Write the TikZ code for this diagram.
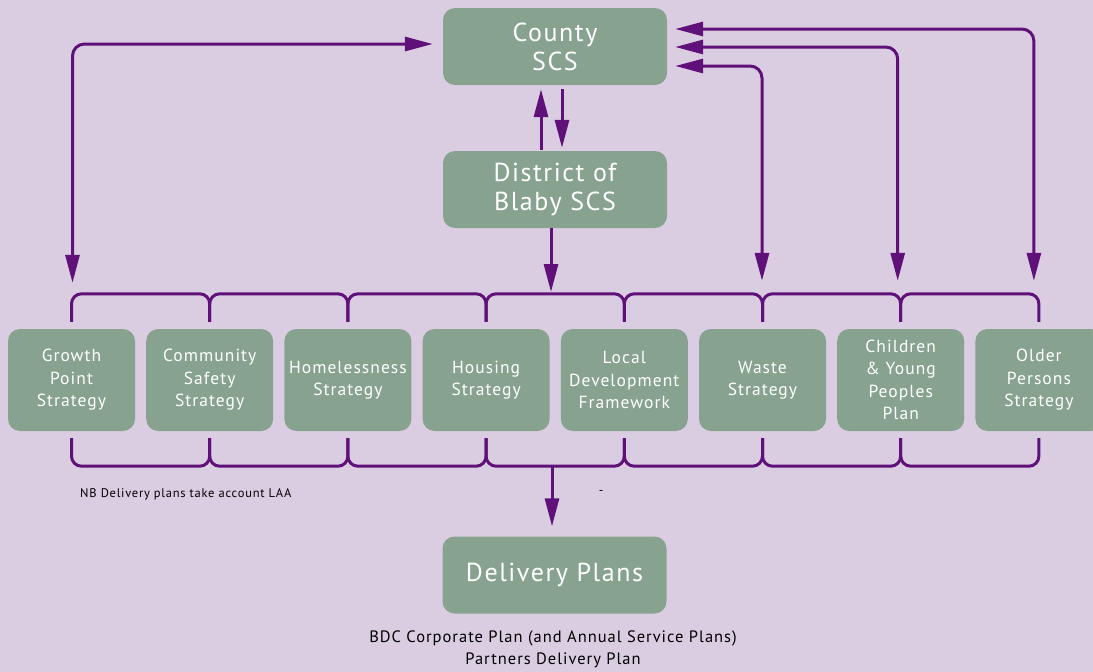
\documentclass[tikz,border=0pt]{standalone}
\usepackage{fontspec}
\setmainfont{PT Sans}[LetterSpace=6]
\usetikzlibrary{arrows.meta,positioning}
\definecolor{lilac}{RGB}{219,205,225}
\definecolor{sage}{RGB}{136,162,144}
\definecolor{plum}{RGB}{95,17,121}
\begin{document}
\begin{tikzpicture}[x=1pt, y=-1pt,
  box/.style={rectangle, rounded corners=12pt, fill=sage, text=white, align=center, inner sep=0pt},
  bigbox/.style={box, minimum width=224pt, minimum height=77pt, font=\fontsize{26}{29}\selectfont},
  strat/.style={box, minimum width=127pt, minimum height=102pt, font=\fontsize{17.5}{22.5}\selectfont},
  link/.style={draw=plum, line width=3pt, -{Triangle[length=28pt, width=14pt]}},
  both/.style={draw=plum, line width=3pt, rounded corners=12pt, {Triangle[length=28pt, width=14pt]}-{Triangle[length=28pt, width=14pt]}},
  brace/.style={draw=plum, line width=3pt, rounded corners=10pt},
  note/.style={inner sep=0pt}]
  \clip (0,0) rectangle (1093,672);
  \fill[lilac] (0,0) rectangle (1093,672);

  % top of the chart
  \node[bigbox] (county) at (555,46.5) {County\\SCS};
  \node[bigbox] (district) at (555,189.5) {District of\\Blaby SCS};

  % the strategies
  \foreach \nm/\cx/\txt in {gp/71.5/{Growth\\Point\\Strategy},
      cs/209.7/{Community\\Safety\\Strategy},
      hl/347.9/{Homelessness\\Strategy},
      hs/486.1/{Housing\\Strategy},
      ldf/624.3/{Local\\Development\\Framework},
      ws/762.5/{Waste\\Strategy},
      cyp/900.7/{Children\\\& Young\\Peoples\\Plan},
      op/1038.9/{Older\\Persons\\Strategy}}
    \node[strat] (\nm) at (\cx,380) {\txt};

  % brackets above and below the row
  \foreach \a/\b in {gp/cs, cs/hl, hl/hs, hs/ldf, ldf/ws, ws/cyp, cyp/op} {
    \draw[brace] ([yshift=7pt]\a.north) -- ++(0,-28) -| ([yshift=7pt]\b.north);
    \draw[brace] ([yshift=-7pt]\a.south) -- ++(0,28) -| ([yshift=-7pt]\b.south);
  }

  \node[bigbox] (delivery) at (554.5,575) {Delivery Plans};

  % arrows
  \draw[link] ([xshift=-14pt,yshift=1pt]district.north) -- ([xshift=-14pt,yshift=-4pt]county.south);
  \draw[link] ([xshift=7pt,yshift=-4pt]county.south) -- ([xshift=7pt,yshift=3pt]district.north);
  \coordinate (topbar) at (551,292);
  \coordinate (lowbar) at (552,466);
  \draw[link] ([xshift=-4pt]district.south) -- (topbar);
  \draw[link] (lowbar) -- ([xshift=-2.5pt,yshift=10pt]delivery.north);
  \draw[both] ([xshift=-10pt,yshift=2.5pt]county.west) -| ([xshift=1pt,yshift=46pt]gp.north);
  \draw[both] ([xshift=8pt,yshift=17.5pt]county.east) -| ([xshift=-5pt,yshift=48pt]op.north);
  \draw[both] ([xshift=8pt,yshift=-0.5pt]county.east) -| ([xshift=-3pt,yshift=48pt]cyp.north);
  \draw[both] ([xshift=8pt,yshift=-19.5pt]county.east) -| ([xshift=-0.5pt,yshift=48pt]ws.north);

  % notes
  \node[note, anchor=west, font=\fontsize{12.5}{15}\selectfont] (nb) at (80,494) {NB Delivery plans take account LAA};
  \node[note, font=\fontsize{12.5}{15}\selectfont] (dash) at (601,492) {-};
  \node[note, align=center, font=\fontsize{16.5}{22}\selectfont] (plans) at (553,649) {BDC Corporate Plan (and Annual Service Plans)\\Partners Delivery Plan};
\end{tikzpicture}
\end{document}
